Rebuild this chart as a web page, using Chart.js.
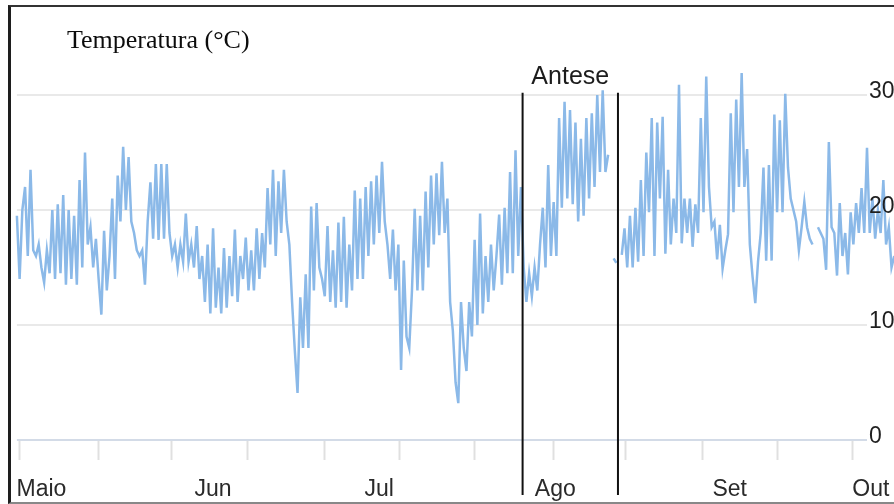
<!DOCTYPE html>
<html>
<head>
<meta charset="utf-8">
<script src="https://cdn.jsdelivr.net/npm/chart.js@4.4.1/dist/chart.umd.min.js"></script>
<style>
  html, body { margin: 0; padding: 0; background: #fff; overflow: hidden; }
  #wrap { position: relative; width: 894px; height: 504px; overflow: hidden; }
  #frame { position: absolute; left: 8px; top: 5px; width: 900px; height: 495px;
           border-left: 3px solid #1e1e1e; border-top: 2px solid #333; border-bottom: 2px solid #888;
           pointer-events: none; }
  canvas { position: absolute; left: 0; top: 0; }
</style>
</head>
<body>
<div id="wrap">
  <canvas id="tempChart" width="930" height="504"></canvas>
  <div id="frame"></div>
</div>
<script>
// temperature readings, two per day (max/min), starting 1 May
const tempMaio = [
  19.5, 14, 20, 22, 16, 23.5, 16.5, 16, 17, 15,
  13.7, 16.5, 14.5, 20, 14, 20.5, 14.5, 21.3, 13.5, 20,
  14, 19.5, 13.5, 22.6, 15, 25, 17, 18.5, 15, 17.5,
  14, 10.9, 18.2, 13, 16, 21, 14, 23, 19, 25.5,
  20, 24.6, 19, 18, 16.5, 16, 16.5, 13.5, 19, 22.4,
  17.5, 24, 17.4, 24, 17.5, 24, 18, 16, 17, 15
];
const tempJun = [
  17, 15.5, 19.7, 15.5, 17, 15, 18.6, 14, 16, 12,
  17, 11, 18.4, 11.5, 15, 11, 16.7, 11.5, 16, 12.5,
  18.3, 12, 16, 14, 17.6, 13, 16.5, 13, 18.4, 14,
  18, 15, 21.9, 17, 23.5, 16, 22.5, 18, 23.5, 19,
  17, 12, 7.8, 4.1, 12.4, 8, 14.4, 8, 20.3, 13,
  20.6, 15, 14, 12.5, 18.6, 12, 16.5, 11.5, 18.9, 12
];
const tempJul = [
  19.4, 11.5, 17, 13, 21.7, 14, 21, 14, 22, 16,
  22.5, 17, 23, 18, 24.2, 19, 17, 14, 18.3, 13,
  17, 6.1, 15.6, 9, 8, 13, 20.1, 13, 19.5, 13,
  21.6, 15, 23, 17, 23.2, 17.8, 24.2, 18, 21, 12,
  9.5, 5, 3.2, 12, 8, 6, 12, 9, 17.4, 10,
  19.7, 11, 16, 12, 17, 13, 16, 19.6, 13.5, 20.2
];
const tempAgo = [
  14.5, 23.3, 14.5, 25.2, 16, 22, 15, 12, 14.5, 12.5,
  15, 13, 17, 20.2, 15, 23.9, 16, 20.7, 16, 28,
  20.2, 29.4, 21, 28.7, 20.5, 27.6, 19, 26.2, 19.5, 28,
  21, 28.4, 22, 30, 23.3, 30.4, 23.3, 24.8, null, 15.8,
  15.4, null, 16.1, 18.4, 15, 19.5, 15, 20.2, 15.5, 22.6,
  16, 25, 19.8, 28, 16, 27.6, 21, 28.1, 16.2, 23.5
];
const tempSet = [
  17, 21, 18, 30.9, 17.1, 21, 18, 21, 16.8, 20.5,
  18, 28, 19.8, 31.6, 22, 18.5, 19, 15.7, 18.7, 14.9,
  16.5, 17.9, 28.4, 19.8, 29.6, 22, 31.9, 22, 25.3, 17,
  14.2, 11.9, 15.5, 18, 23.7, 15.6, 23.9, 15.6, 28.3, 19.8,
  27.8, 19.8, 30.1, 23.7, 21, 20, 19, 16.5, 18.5, 20.7,
  18.5, 17.5, 17, null, 18.5, 18, 17.5, 14.8, 25.9, 18.5
];
const tempOut = [
  18, 14.3, 20.6, 16, 18, 14.4, 19.8, 17, 20.6, 18,
  21.9, 18, 25.4, 18, 21, 17.5, 20, 18, 22.6, 17,
  18.5, 15, 16
];

const samplesPerDay = 2;
const dayRange = [0, 156];
const tickDays = [0.4, 15, 28.3, 42.4, 56.5, 70.2, 83.9, 98.4, 111.7, 125.8, 139.5, 153.4];
const monthLabels = ["Maio", "Jun", "Jul", "Ago", "Set", "Out"];
const labelDays = [4.5, 36, 66.5, 98.8, 130.8, 156.7];
const yTicks = [0, 10, 20, 30];
const anteseDays = [92.8, 110.3];

const temps = [...tempMaio, ...tempJun, ...tempJul, ...tempAgo, ...tempSet, ...tempOut];
const points = temps.map((t, i) => ({ x: i / samplesPerDay, y: t }));

function fixRange(scale) {
  scale.min = dayRange[0];
  scale.max = dayRange[1];
}

const labelFont = { family: "'Liberation Sans', Arial, sans-serif", size: 23 };

const antesePlugin = {
  id: "antese",
  afterDatasetsDraw(chart) {
    const { ctx, scales: { x, y } } = chart;
    const x1 = x.getPixelForValue(anteseDays[0]);
    const x2 = x.getPixelForValue(anteseDays[1]);
    const top = y.getPixelForValue(30.2);
    ctx.save();
    ctx.strokeStyle = "#111";
    ctx.lineWidth = 2;
    ctx.beginPath();
    [x1, x2].forEach(px => {
      ctx.moveTo(px, top);
      ctx.lineTo(px, chart.height - 9);
    });
    ctx.stroke();
    ctx.fillStyle = "#1c1c1c";
    ctx.font = "25px 'Liberation Sans', Arial, sans-serif";
    ctx.textAlign = "center";
    ctx.fillText("Antese", (x1 + x2) / 2, top - 9);
    ctx.fillStyle = "#0c0c0c";
    ctx.font = "26px 'Liberation Serif', 'Times New Roman', serif";
    ctx.textAlign = "left";
    ctx.fillText("Temperatura (°C)", 67, 48);
    ctx.restore();
  }
};

new Chart(document.getElementById("tempChart"), {
  type: "line",
  data: {
    datasets: [{
      data: points,
      borderColor: "#8bb9e8",
      borderWidth: 2.5,
      pointRadius: 0,
      tension: 0,
      spanGaps: false,
      clip: false
    }]
  },
  options: {
    responsive: false,
    devicePixelRatio: 1,
    animation: false,
    layout: { padding: { left: 13, top: 49, right: 0, bottom: 0 } },
    plugins: {
      legend: { display: false },
      tooltip: { enabled: false }
    },
    scales: {
      x: {
        type: "linear",
        position: "bottom",
        bounds: "data",
        weight: 0,
        afterDataLimits: fixRange,
        afterBuildTicks: s => { s.ticks = tickDays.map(v => ({ value: v })); },
        afterFit: s => { s.height = 20; },
        grid: { drawOnChartArea: false, drawTicks: true, tickLength: 20, tickColor: "#e0e0e0", tickWidth: 2 },
        border: { display: false },
        ticks: { display: false }
      },
      x2: {
        type: "linear",
        position: "bottom",
        bounds: "data",
        weight: 1,
        afterDataLimits: fixRange,
        afterBuildTicks: s => { s.ticks = labelDays.map(v => ({ value: v })); },
        afterFit: s => { s.height = 44; },
        grid: { display: false, drawTicks: false },
        border: { display: false },
        ticks: {
          autoSkip: false,
          maxRotation: 0,
          padding: 16,
          color: "#2a2a2a",
          font: labelFont,
          callback: (v, i) => monthLabels[i]
        }
      },
      y: {
        position: "right",
        min: 0,
        max: 34,
        afterBuildTicks: s => { s.ticks = yTicks.map(v => ({ value: v })); },
        afterFit: s => { s.width = 63; },
        grid: {
          drawTicks: false,
          lineWidth: 2,
          color: c => (c.tick && c.tick.value === 0) ? "#d3dbe7" : "#e9e9e9"
        },
        border: { display: false },
        ticks: {
          padding: 2,
          z: 1,
          color: "#1f1f1f",
          font: labelFont,
          labelOffset: c => (c.tick && c.tick.value === 0) ? -13 : -3
        }
      }
    }
  },
  plugins: [antesePlugin]
});
</script>
</body>
</html>
